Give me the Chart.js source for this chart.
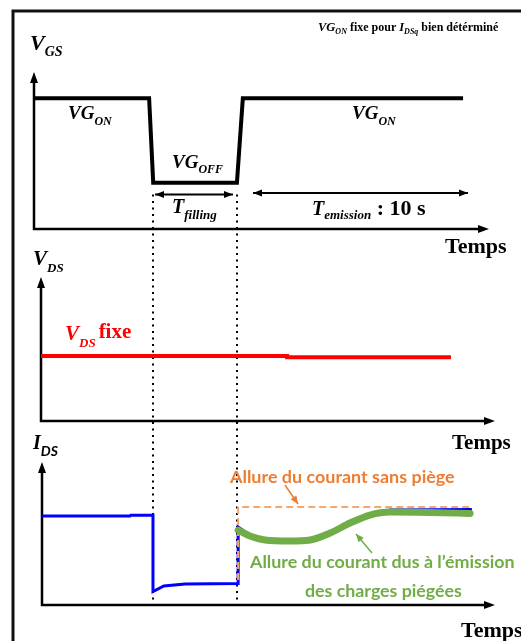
<!DOCTYPE html>
<html>
<head>
<meta charset="utf-8">
<script src="https://cdn.jsdelivr.net/npm/chart.js@4"></script>
<style>
  html, body { margin: 0; padding: 0; background: #ffffff; }
  #wrap { position: relative; width: 521px; height: 641px; }
</style>
</head>
<body>
<div id="wrap"><canvas id="c"></canvas></div>
<script>
// ---------------- DATA (time in % of each panel's axis, values in % of axis height) ----------------
// Panel 1 : V_GS
const vgsTime  = [0, 25.3, 26.2, 44.6, 45.9, 94.3];
const vgsValue = [83.3, 83.3, 29.5, 29.5, 83.3, 83.3];
// Filling window (panel 1 time units) -> dotted markers
const fillStart = 26.2;
const fillEnd   = 44.6;
// Panel 2 : V_DS
const vdsTime  = [0, 54.2, 54.2, 90.3];
const vdsValue = [45.1, 45.1, 44.2, 44.2];
// Panel 3 : I_DS measured (blue)
const idsTime  = [0, 19.4, 19.6, 24.5, 24.5, 26.9, 31.6, 43.3, 43.3, 45.9, 49.2, 54.7, 59.2, 63.6, 68.0, 72.4, 76.8, 94.9];
const idsValue = [62.2, 62.2, 62.8, 62.8, 9.4, 13.3, 14.7, 15.0, 54.5, 49.0, 45.8, 44.6, 45.0, 49.6, 56.6, 62.6, 66.4, 66.8];
// Panel 3 : current without trap (orange dashed)
const noTrapTime  = [43.3, 43.3, 94.9];
const noTrapValue = [17.5, 68.5, 68.5];
// Panel 3 : current due to trap emission (green)
const emisTime  = [43.3, 45.9, 49.2, 54.7, 59.2, 63.6, 68.0, 72.4, 76.8, 85.7, 94.5];
const emisValue = [52.4, 48.3, 45.5, 44.8, 45.5, 50.3, 57.3, 62.9, 65.0, 64.7, 64.0];

// ---------------- LAYOUT ----------------
const W = 521, H = 641;
const panels = {
  p1: { L: 34, R: 489, B: 229, T: 72 },
  p2: { L: 41, R: 495, B: 421, T: 277 },
  p3: { L: 42, R: 495, B: 605, T: 462 }
};
function xRange(p) { const r = 100 * W / (p.R - p.L); const min = -p.L * 100 / (p.R - p.L); return { min, max: min + r }; }
function yRange(p) { const r = 100 * H / (p.B - p.T); const min = -(H - p.B) * 100 / (p.B - p.T); return { min, max: min + r }; }

const SERIF = '"Liberation Serif", "Times New Roman", serif';
const SANS = 'Lato, "Open Sans", sans-serif';
const bi = s => `italic bold ${s}px ${SERIF}`;
const bd = s => `bold ${s}px ${SERIF}`;
const ORANGE = '#ed7d31', ORANGE_L = '#f4a86e', GREEN = '#70ad47';

function pts(xs, ys) { return xs.map((x, i) => ({ x, y: ys[i] })); }

function runs(ctx, x, y, parts, color) {
  ctx.textBaseline = 'alphabetic';
  ctx.textAlign = 'left';
  for (const p of parts) {
    ctx.font = p.f;
    ctx.fillStyle = p.c || color || '#000';
    ctx.fillText(p.t, x, y + (p.dy || 0));
    x += ctx.measureText(p.t).width + (p.dx || 0);
  }
}
function fitText(ctx, text, x, y, width, weight, family, color) {
  ctx.font = `${weight} 100px ${family}`;
  const w = ctx.measureText(text).width;
  const size = 100 * width / w;
  ctx.font = `${weight} ${size.toFixed(2)}px ${family}`;
  ctx.fillStyle = color;
  ctx.textAlign = 'left';
  ctx.textBaseline = 'alphabetic';
  ctx.fillText(text, x, y);
}
function head(ctx, x, y, ang, len, hw) {
  ctx.beginPath();
  ctx.moveTo(x, y);
  ctx.lineTo(x - len * Math.cos(ang) + hw * Math.sin(ang), y - len * Math.sin(ang) - hw * Math.cos(ang));
  ctx.lineTo(x - len * Math.cos(ang) - hw * Math.sin(ang), y - len * Math.sin(ang) + hw * Math.cos(ang));
  ctx.closePath();
  ctx.fill();
}
function arrow(ctx, x1, y1, x2, y2, color, lw, len, hw, both) {
  ctx.save();
  ctx.strokeStyle = color; ctx.fillStyle = color; ctx.lineWidth = lw; ctx.setLineDash([]);
  ctx.beginPath(); ctx.moveTo(x1, y1); ctx.lineTo(x2, y2); ctx.stroke();
  const a = Math.atan2(y2 - y1, x2 - x1);
  head(ctx, x2, y2, a, len, hw);
  if (both) head(ctx, x1, y1, a + Math.PI, len, hw);
  ctx.restore();
}

const decor = {
  id: 'decor',
  beforeDatasetsDraw(chart) {
    const ctx = chart.ctx;
    ctx.save();
    // frame
    ctx.strokeStyle = '#111'; ctx.lineWidth = 3;
    ctx.beginPath(); ctx.moveTo(13, H); ctx.lineTo(13, 11); ctx.lineTo(W, 11); ctx.stroke();
    // axes
    for (const k of ['p1', 'p2', 'p3']) {
      const p = panels[k];
      ctx.strokeStyle = '#000'; ctx.fillStyle = '#000'; ctx.lineWidth = 2.5;
      ctx.beginPath(); ctx.moveTo(p.L, p.T + 8); ctx.lineTo(p.L, p.B); ctx.lineTo(p.R - 8, p.B); ctx.stroke();
      head(ctx, p.L, p.T, -Math.PI / 2, 11, 4);
      head(ctx, p.R, p.B, 0, 11, 4);
    }
    // dotted filling markers
    const xs = chart.scales.x1;
    const yTop = chart.scales.y1.getPixelForValue(22);
    const yBot = chart.scales.y3.getPixelForValue(-2.5);
    ctx.strokeStyle = '#000'; ctx.lineWidth = 2; ctx.setLineDash([2, 4.5]);
    for (const t of [fillStart, fillEnd]) {
      const x = Math.round(xs.getPixelForValue(t));
      ctx.beginPath(); ctx.moveTo(x, yTop); ctx.lineTo(x, yBot); ctx.stroke();
    }
    ctx.restore();
  },
  afterDatasetsDraw(chart) {
    const ctx = chart.ctx;
    ctx.save();
    // panel 1 texts
    runs(ctx, 30, 50, [{ t: 'V', f: bi(22) }, { t: 'GS', f: bi(14), dy: 6 }]);
    runs(ctx, 68, 119, [{ t: 'VG', f: bi(19) }, { t: 'ON', f: bi(12), dy: 6 }]);
    runs(ctx, 352, 119, [{ t: 'VG', f: bi(19) }, { t: 'ON', f: bi(12), dy: 6 }]);
    runs(ctx, 172, 168, [{ t: 'VG', f: bi(19) }, { t: 'OFF', f: bi(12), dy: 5 }]);
    runs(ctx, 172, 213, [{ t: 'T', f: bi(20) }, { t: 'filling', f: bi(13), dy: 6 }]);
    runs(ctx, 312, 215, [{ t: 'T', f: bi(20) }, { t: 'emission', f: bi(13), dy: 4 }, { t: ' : 10 s', f: bd(22) }]);
    runs(ctx, 445, 253, [{ t: 'Temps', f: bd(22) }]);
    runs(ctx, 318, 31, [{ t: 'VG', f: bi(12.5) }, { t: 'ON', f: bi(8), dy: 3 }, { t: ' fixe pour ', f: bd(12) },
                         { t: 'I', f: bi(12.5) }, { t: 'DSq', f: bi(8), dy: 3 }, { t: ' bien détérminé', f: bd(12) }]);
    // arrows in panel 1
    arrow(ctx, 155, 194.5, 233, 194.5, '#000', 2, 9, 3.5, true);
    arrow(ctx, 253, 193, 468, 193, '#000', 2, 9, 3.5, true);
    // panel 2 texts
    runs(ctx, 33, 265, [{ t: 'V', f: bi(21) }, { t: 'DS', f: bi(13), dy: 7 }]);
    runs(ctx, 65, 340, [{ t: 'V', f: bi(21) }, { t: 'DS', f: bi(13), dy: 7, dx: 3 }, { t: 'fixe', f: bd(21), dy: -2 }], '#ff0000');
    runs(ctx, 452, 449, [{ t: 'Temps', f: bd(21) }]);
    // panel 3 texts
    runs(ctx, 33, 449, [{ t: 'I', f: bi(20) }, { t: 'DS', f: `italic bold 14px ${SANS}`, dy: 7 }]);
    runs(ctx, 461, 637, [{ t: 'Temps', f: bd(22) }]);
    fitText(ctx, 'Allure du courant sans piège', 230, 483, 225, 'bold', SANS, ORANGE);
    fitText(ctx, 'Allure du courant dus à l\u2019émission', 250, 568, 265, 'bold', SANS, GREEN);
    fitText(ctx, 'des charges piégées', 305, 597, 157, 'bold', SANS, GREEN);
    arrow(ctx, 285, 485, 298, 504, ORANGE, 1.5, 8, 3.5, false);
    arrow(ctx, 372, 553, 356, 534, GREEN, 1.5, 8, 3.5, false);
    ctx.restore();
  }
};

const r1x = xRange(panels.p1), r2x = xRange(panels.p2), r3x = xRange(panels.p3);
const r1y = yRange(panels.p1), r2y = yRange(panels.p2), r3y = yRange(panels.p3);
const base = { pointRadius: 0, fill: false, tension: 0, clip: false, borderJoinStyle: 'miter', borderCapStyle: 'butt' };

new Chart(document.getElementById('c'), {
  type: 'line',
  data: {
    datasets: [
      Object.assign({}, base, { label: 'Émission', data: pts(emisTime, emisValue), xAxisID: 'x3', yAxisID: 'y3',
        borderColor: GREEN, borderWidth: 7, cubicInterpolationMode: 'monotone', borderCapStyle: 'round', borderJoinStyle: 'round' }),
      Object.assign({}, base, { label: 'Sans piège', data: pts(noTrapTime, noTrapValue), xAxisID: 'x3', yAxisID: 'y3',
        borderColor: ORANGE_L, borderWidth: 2, borderDash: [7, 4] }),
      Object.assign({}, base, { label: 'I_DS', data: pts(idsTime, idsValue), xAxisID: 'x3', yAxisID: 'y3',
        borderColor: '#0000ff', borderWidth: 3 }),
      Object.assign({}, base, { label: 'V_DS', data: pts(vdsTime, vdsValue), xAxisID: 'x2', yAxisID: 'y2',
        borderColor: '#ff0000', borderWidth: 4 }),
      Object.assign({}, base, { label: 'V_GS', data: pts(vgsTime, vgsValue), xAxisID: 'x1', yAxisID: 'y1',
        borderColor: '#000000', borderWidth: 4 })
    ]
  },
  options: {
    animation: false,
    responsive: true,
    maintainAspectRatio: false,
    events: [],
    layout: { padding: 0 },
    plugins: { legend: { display: false }, tooltip: { enabled: false }, title: { display: false } },
    scales: {
      x1: { type: 'linear', display: false, min: r1x.min, max: r1x.max },
      x2: { type: 'linear', display: false, min: r2x.min, max: r2x.max },
      x3: { type: 'linear', display: false, min: r3x.min, max: r3x.max },
      y1: { type: 'linear', display: false, min: r1y.min, max: r1y.max },
      y2: { type: 'linear', display: false, min: r2y.min, max: r2y.max },
      y3: { type: 'linear', display: false, min: r3y.min, max: r3y.max }
    }
  },
  plugins: [decor]
});
</script>
</body>
</html>
